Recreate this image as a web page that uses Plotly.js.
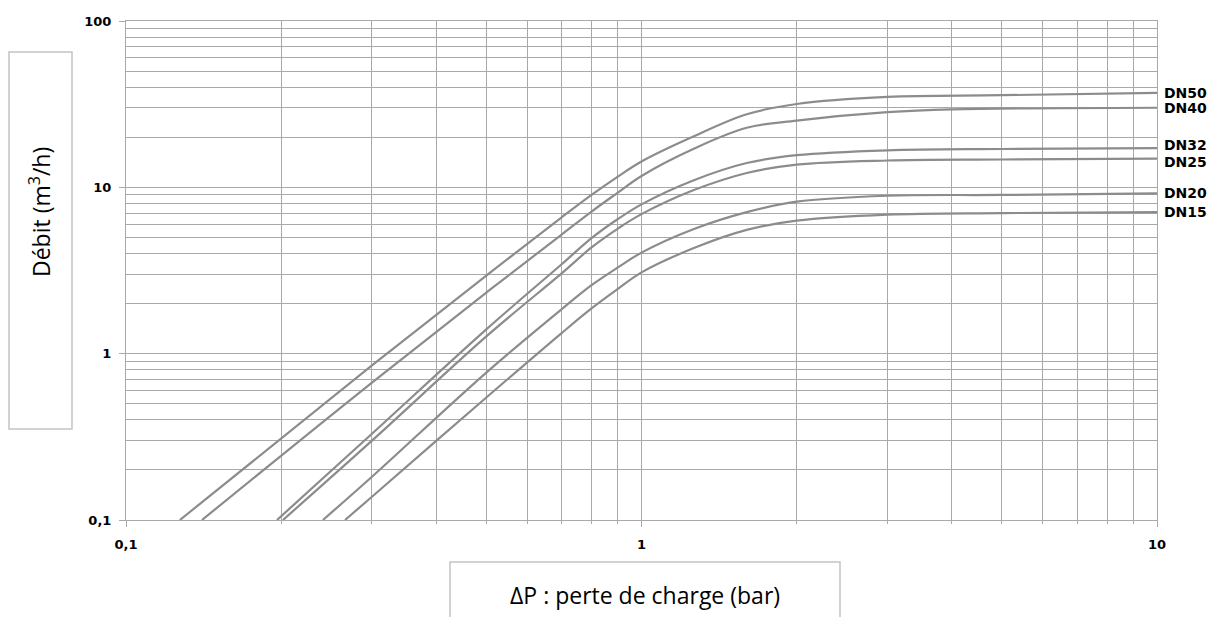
<!DOCTYPE html>
<html>
<head>
<meta charset="utf-8">
<script src="https://cdn.plot.ly/plotly-3.0.1.min.js"></script>
<style>
  html, body { margin: 0; padding: 0; background: #fff; }
  #chart { width: 1209px; height: 617px; }
</style>
</head>
<body>
<div id="chart"></div>
<script>
// ---- Data ----
const seriesNames = ["DN50", "DN40", "DN32", "DN25", "DN20", "DN15"];

const dn50_x = [0.1272, 0.3, 0.5, 0.7, 0.8, 0.9, 1, 1.26, 1.6, 2, 3, 5, 10];
const dn50_y = [0.1, 0.85, 2.95, 6.6, 9.0, 11.6, 14.3, 20.2, 27.5, 31.7, 35, 35.8, 37];

const dn40_x = [0.1404, 0.3, 0.5, 0.7, 0.8, 0.9, 1, 1.26, 1.6, 2, 3, 4, 10];
const dn40_y = [0.1, 0.67, 2.33, 5.2, 7.15, 9.3, 11.7, 17.0, 22.8, 25.2, 28.3, 29.4, 30.1];

const dn32_x = [0.1963, 0.3, 0.5, 0.7, 0.8, 0.9, 1, 1.26, 1.6, 2, 3, 5, 10];
const dn32_y = [0.1, 0.33, 1.4, 3.45, 4.95, 6.45, 7.9, 11.0, 14.0, 15.6, 16.7, 17.0, 17.2];

const dn25_x = [0.2016, 0.3, 0.5, 0.7, 0.8, 0.9, 1, 1.26, 1.6, 2, 3, 5, 10];
const dn25_y = [0.1, 0.3, 1.27, 3.04, 4.35, 5.65, 6.9, 9.6, 12.2, 13.7, 14.5, 14.7, 14.9];

const dn20_x = [0.241, 0.3, 0.5, 0.7, 0.8, 0.9, 1, 1.26, 1.6, 2, 3, 5, 10];
const dn20_y = [0.1, 0.182, 0.77, 1.85, 2.58, 3.3, 4.05, 5.6, 7.1, 8.2, 8.9, 9.0, 9.2];

const dn15_x = [0.266, 0.3, 0.5, 0.7, 0.8, 0.9, 1, 1.26, 1.6, 2, 3, 5, 10];
const dn15_y = [0.1, 0.138, 0.545, 1.33, 1.87, 2.45, 3.08, 4.3, 5.55, 6.3, 6.85, 7.0, 7.1];

// Tick labels
const xTickVals = [0.1, 1, 10];
const xTickText = ["0,1", "1", "10"];
const yTickVals = [0.1, 1, 10, 100];
const yTickText = ["0,1", "1", "10", "100"];
const xMinorVals = [0.2, 0.3, 0.4, 0.5, 0.6, 0.7, 0.8, 0.9, 2, 3, 4, 5, 6, 7, 8, 9];
const yMinorVals = [0.2, 0.3, 0.4, 0.5, 0.6, 0.7, 0.8, 0.9, 2, 3, 4, 5, 6, 7, 8, 9, 20, 30, 40, 50, 60, 70, 80, 90];

const xTitle = "ΔP : perte de charge (bar)";
const yTitle = "Débit (m<sup>3</sup>/h)";

// ---- Build ----
const xs = [dn50_x, dn40_x, dn32_x, dn25_x, dn20_x, dn15_x];
const ys = [dn50_y, dn40_y, dn32_y, dn25_y, dn20_y, dn15_y];
const labelShift = [0, 0, 3, -3, 0, 0];

const curveColor = "#8c8c8c";
const gridColor = "#a9a9a9";
const boxColor = "#c3c3c3";

const traces = seriesNames.map((name, i) => ({
  type: "scatter",
  mode: "lines",
  name: name,
  x: xs[i],
  y: ys[i],
  line: { color: curveColor, width: 2.2, shape: "spline", smoothing: 1.0 },
  hoverinfo: "name+x+y"
}));

const tickFont = { family: "DejaVu Sans", size: 13, color: "#000", weight: "bold" };

const annotations = seriesNames.map((name, i) => ({
  x: Math.log10(xs[i][xs[i].length - 1]),
  y: Math.log10(ys[i][ys[i].length - 1]),
  xref: "x", yref: "y",
  text: "<b>" + name + "</b>",
  showarrow: false,
  xanchor: "left", yanchor: "middle",
  xshift: 5, yshift: labelShift[i],
  font: { family: "DejaVu Sans", size: 14, color: "#000" }
}));

annotations.push({
  xref: "paper", yref: "paper",
  x: (645 - 126) / 1031, y: (520 - 595) / 499,
  text: xTitle, showarrow: false,
  xanchor: "center", yanchor: "middle",
  font: { family: "Open Sans", size: 23, color: "#000" }
});
annotations.push({
  xref: "paper", yref: "paper",
  x: (40 - 126) / 1031, y: (520 - 212) / 499,
  text: yTitle, showarrow: false, textangle: -90,
  xanchor: "center", yanchor: "middle",
  font: { family: "Open Sans", size: 23, color: "#000" }
});

const shapes = [
  { type: "rect", xref: "paper", yref: "paper",
    x0: (9 - 126) / 1031, x1: (72 - 126) / 1031,
    y0: (520 - 429) / 499, y1: (520 - 52) / 499,
    line: { color: boxColor, width: 1.5 }, fillcolor: "rgba(0,0,0,0)" },
  { type: "rect", xref: "paper", yref: "paper",
    x0: (450 - 126) / 1031, x1: (840 - 126) / 1031,
    y0: (520 - 625) / 499, y1: (520 - 562) / 499,
    line: { color: boxColor, width: 1.5 }, fillcolor: "rgba(0,0,0,0)" }
];

const layout = {
  width: 1209, height: 617,
  margin: { l: 126, r: 52, t: 21, b: 97, pad: 0 },
  paper_bgcolor: "#fff", plot_bgcolor: "#fff",
  showlegend: false,
  xaxis: {
    type: "log", range: [-1, 1],
    tickvals: xTickVals, ticktext: xTickText,
    ticks: "outside", ticklen: 6, tickcolor: gridColor, tickwidth: 1,
    ticklabelstandoff: 6,
    tickfont: tickFont,
    showgrid: true, gridcolor: gridColor, gridwidth: 1,
    showline: true, linecolor: gridColor, linewidth: 1, mirror: true,
    zeroline: false,
    minor: { tickvals: xMinorVals, ticks: "outside", ticklen: 3, tickcolor: gridColor,
             showgrid: true, gridcolor: gridColor, gridwidth: 1 }
  },
  yaxis: {
    type: "log", range: [-1, 2],
    tickvals: yTickVals, ticktext: yTickText,
    ticks: "outside", ticklen: 6, tickcolor: gridColor, tickwidth: 1,
    ticklabelstandoff: 5,
    tickfont: tickFont,
    showgrid: true, gridcolor: gridColor, gridwidth: 1,
    showline: true, linecolor: gridColor, linewidth: 1, mirror: true,
    zeroline: false,
    minor: { tickvals: yMinorVals, ticks: "", showgrid: true, gridcolor: gridColor, gridwidth: 1 }
  },
  annotations: annotations,
  shapes: shapes
};

Plotly.newPlot("chart", traces, layout, { staticPlot: true, displayModeBar: false });
</script>
</body>
</html>
